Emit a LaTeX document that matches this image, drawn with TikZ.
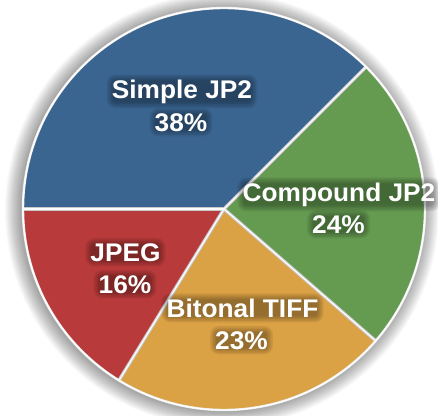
\documentclass[tikz,border=0pt]{standalone}
\usepackage{fontspec}
\usetikzlibrary{calc}
\setmainfont{Liberation Sans}
\newfontfamily\lblfont[FakeStretch=1.03]{Liberation Sans}
\definecolor{pblue}{HTML}{3A6591}
\definecolor{pgreen}{HTML}{659A51}
\definecolor{pred}{HTML}{B93A3A}
\definecolor{pyellow}{HTML}{DBA145}
\definecolor{sepgray}{HTML}{C9C9C9}
\pgfdeclarelayer{fg}
\pgfsetlayers{main,fg}
\begin{document}
\begin{tikzpicture}[x=1pt,y=1pt,
  lbl/.style={font=\lblfont\bfseries\fontsize{25.5}{30}\selectfont,anchor=base,inner sep=0pt,text=white},
  sepline/.style={draw=sepgray,line width=3.4pt},
  sepwhite/.style={draw=white,line width=1.2pt},
  glow/.style={fill=black,opacity=0.07}]
\useasboundingbox (0,0) rectangle (438,-415);
\fill[white] (0,0) rectangle (438,-415);
\coordinate (c) at (224,-209);
\def\R{201}
% soft shadow
\foreach \i in {1,...,16} {\fill[black,opacity=0.024] (222,-210) circle[radius={\R+17-\i}];}
% slices
\fill[pblue]   (c) -- ++(180:\R) arc[start angle=180,end angle=45,radius=\R] -- cycle;
\fill[pgreen]  (c) -- ++(45:\R) arc[start angle=45,end angle=-41,radius=\R] -- cycle;
\fill[pyellow] (c) -- ++(-41:\R) arc[start angle=-41,end angle=-121.5,radius=\R] -- cycle;
\fill[pred]    (c) -- ++(-121.5:\R) arc[start angle=-121.5,end angle=-180,radius=\R] -- cycle;
% separators
\coordinate (e1) at ($(c)+(180:\R)$);
\coordinate (e2) at ($(c)+(45:\R)$);
\coordinate (e3) at ($(c)+(-41:\R)$);
\coordinate (e4) at ($(c)+(-121.5:\R)$);
\foreach \e in {e1,e2,e3,e4} {\draw[sepline] (c) -- (\e);}
\foreach \e in {e1,e2,e3,e4} {\draw[sepwhite] (c) -- (\e);}
% rim
\draw[draw=white!85!gray,line width=2.4pt] (c) circle[radius=\R];
\draw[draw=white,line width=1.2pt] (c) circle[radius=\R];
% labels
\begin{pgfonlayer}{fg}
\node[lbl] (l1a) at (182,-98) {Simple JP2};
\node[lbl] (l1b) at (181,-131) {38\%};
\node[lbl] (l2a) at (339,-201) {Compound JP2};
\node[lbl] (l2b) at (338.5,-233) {24\%};
\node[lbl] (l3a) at (242.5,-317) {Bitonal TIFF};
\node[lbl] (l3b) at (241.5,-349) {23\%};
\node[lbl] (l4a) at (125.5,-261) {JPEG};
\node[lbl] (l4b) at (125,-293) {16\%};
\end{pgfonlayer}
% glow behind labels
\foreach \n in {l1a,l1b,l2a,l2b,l3a,l3b,l4a,l4b} {
  \foreach \k in {0,1.5,3,4.5,6} {
    \fill[glow,rounded corners={3+\k}] ($(\n.south west)+(-\k+1,-\k+1)$) rectangle ($(\n.north east)+(\k-1,\k-1)$);
  }
}
\end{tikzpicture}
\end{document}
